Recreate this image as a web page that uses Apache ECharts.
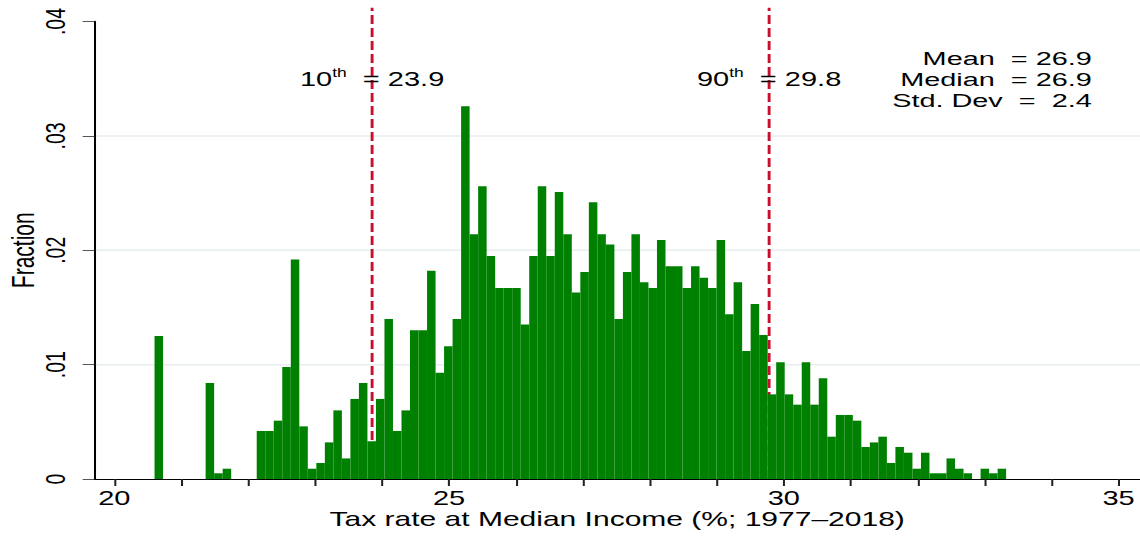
<!DOCTYPE html>
<html><head><meta charset="utf-8">
<script src="https://cdn.jsdelivr.net/npm/echarts@6/dist/echarts.min.js"></script>
<style>
html,body{margin:0;padding:0;background:#fff;overflow:hidden}
#wrap{width:1140px;height:536px;overflow:hidden}
#chart{width:786px;height:536px;transform:scaleX(1.4504);transform-origin:0 0}
</style></head><body><div id="wrap"><div id="chart"></div></div>
<script>
// ---- data ----
const binStart = 20.60;
const binWidth = 0.1272;
const fractions = [
 0.0125,0,0,0,0,0,0.0084,0.0005,0.0009,0,
 0,0,0.0042,0.0042,0.0051,0.0098,0.0192,0.0046,0.0009,0.0014,
 0.0032,0.0060,0.0018,0.0070,0.0084,0.0033,0.0070,0.0140,0.0042,0.0060,
 0.0130,0.0130,0.0182,0.0093,0.0116,0.0140,0.0326,0.0214,0.0256,0.0195,
 0.0167,0.0167,0.0167,0.0135,0.0195,0.0256,0.0195,0.0251,0.0214,0.0163,
 0.0181,0.0242,0.0214,0.0205,0.0140,0.0181,0.0214,0.0172,0.0167,0.0209,
 0.0186,0.0186,0.0167,0.0186,0.0176,0.0167,0.0209,0.0144,0.0172,0.0112,
 0.0153,0.0126,0.0074,0.0102,0.0074,0.0065,0.0102,0.0065,0.0088,0.0037,
 0.0056,0.0056,0.0051,0.0028,0.0032,0.0037,0.0014,0.0028,0.0023,0.0009,
 0.0023,0.0005,0.0005,0.0018,0.0009,0.0005,0,0.0009,0.0005,0.0009
];
const pctNames = ['10', '90'];
const pctLines = [23.85, 29.78];
const pctTexts = ['23.9', '29.8'];
const statNames = ['Mean', 'Median', 'Std. Dev'];
const statTexts = ['= 26.9', '= 26.9', '=  2.4'];
const xTickValues = [20,21,22,23,24,25,26,27,28,29,30,31,32,33,34,35];
const xLabelValues = [20,25,30,35];
const gridValues = [0.01,0.02,0.03];

// ---- layout / style ----
const FONT = '"Liberation Sans", Arial, Helvetica, sans-serif';
const X_MIN = 19.7, X_MAX = 35.32, Y_MAX = 0.04, LINE_TOP = 0.0412;
const LABEL_Y = 0.0350, STAT_X = 34.60, STAT_Y = 0.03495;

const bins = fractions.map((f, i) => [binStart + i * binWidth, binStart + (i + 1) * binWidth, f]);

const chart = echarts.init(document.getElementById('chart'), null, {renderer: 'svg'});
chart.setOption({
  animation: false,
  backgroundColor: '#fff',
  textStyle: {fontFamily: FONT},
  grid: {left: 65, right: 0, top: 21.5, bottom: 57, containLabel: false, outerBoundsMode: 'none'},
  xAxis: {
    type: 'value', min: X_MIN, max: X_MAX,
    axisLine: {show: true, onZero: false, lineStyle: {color: '#000', width: 1.2}},
    axisTick: {show: true, length: 7, customValues: xTickValues, lineStyle: {color: '#222', width: 1.4}},
    axisLabel: {customValues: xLabelValues, margin: 9, fontSize: 20, color: '#000', fontFamily: FONT,
      formatter: v => String(Math.round(v))},
    splitLine: {show: false},
    name: 'Tax rate at Median Income (%; 1977\u20132018)', nameLocation: 'middle', nameGap: 29,
    nameMoveOverlap: false,
    nameTextStyle: {fontSize: 20.7, color: '#000', fontFamily: FONT}
  },
  yAxis: {
    type: 'value', min: 0, max: Y_MAX, interval: 0.01,
    axisLine: {show: true, lineStyle: {color: '#000', width: 1.4}},
    axisTick: {show: true, length: 8, lineStyle: {color: '#555', width: 1}},
    axisLabel: {rotate: 90, margin: 17, fontSize: 19.5, color: '#000', fontFamily: FONT,
      formatter: v => { const n = Math.round(v * 100); return n === 0 ? '0' : '.' + String(n).padStart(2, '0'); }},
    splitLine: {show: false},
    name: 'Fraction', nameLocation: 'middle', nameRotate: 90, nameGap: 38,
    nameMoveOverlap: false,
    nameTextStyle: {fontSize: 21, color: '#000', fontFamily: FONT}
  },
  series: [
    { // grid lines
      type: 'custom', z: 0, silent: true,
      data: gridValues.map(v => [X_MIN, v]),
      encode: {x: 0, y: 1},
      renderItem: (params, api) => {
        const a = api.coord([X_MIN, api.value(1)]), b = api.coord([X_MAX, api.value(1)]);
        return {type: 'line', shape: {x1: a[0], y1: a[1], x2: b[0], y2: b[1]},
          style: {stroke: '#e6eef0', lineWidth: 1.5}};
      }
    },
    { // percentile dashed lines
      type: 'custom', z: 1, silent: true, clip: false,
      data: pctLines.map(v => [v, 0]),
      encode: {x: 0, y: 1},
      renderItem: (params, api) => {
        const a = api.coord([api.value(0), 0]), b = api.coord([api.value(0), LINE_TOP]);
        return {type: 'line', shape: {x1: a[0], y1: a[1], x2: b[0], y2: b[1]},
          style: {stroke: '#c8102e', lineWidth: 2, lineDash: [9, 4]}};
      }
    },
    { // histogram bars
      type: 'custom', z: 2, silent: true,
      data: bins,
      encode: {x: [0, 1], y: 2},
      renderItem: (params, api) => {
        const p0 = api.coord([api.value(0), api.value(2)]);
        const p1 = api.coord([api.value(1), 0]);
        return {type: 'rect', shape: {x: p0[0], y: p0[1], width: p1[0] - p0[0], height: p1[1] - p0[1]},
          style: {fill: '#008000'}};
      }
    },
    { // percentile labels
      type: 'custom', z: 3, silent: true, clip: false,
      data: pctLines.map(v => [v, LABEL_Y]),
      encode: {x: 0, y: 1},
      renderItem: (params, api) => {
        const p = api.coord([api.value(0), api.value(1)]);
        const i = params.dataIndex;
        return {type: 'text', x: p[0], y: p[1], style: {
          text: '{a|' + pctNames[i] + '}{s|th}{a|  = ' + pctTexts[i] + '}',
          rich: {a: {fontSize: 20, lineHeight: 24, fontFamily: FONT, fill: '#000'},
                 s: {fontSize: 12, verticalAlign: 'top', fontFamily: FONT, fill: '#000'}},
          align: 'center', verticalAlign: 'middle', fill: '#000', fontFamily: FONT, fontSize: 20}};
      }
    },
    { // summary statistics (one right-aligned block)
      type: 'custom', z: 3, silent: true, clip: false,
      data: [[STAT_X, STAT_Y]],
      encode: {x: 0, y: 1},
      renderItem: (params, api) => {
        const p = api.coord([api.value(0), api.value(1)]);
        return {type: 'text', x: p[0], y: p[1], scaleX: 1.07, style: {
          text: statNames.map((s, i) => s + '  ' + statTexts[i]).join('\n'),
          lineHeight: 20.9,
          align: 'right', verticalAlign: 'middle', fill: '#000', fontFamily: FONT, fontSize: 18.6}};
      }
    }
  ]
});
</script></body></html>
